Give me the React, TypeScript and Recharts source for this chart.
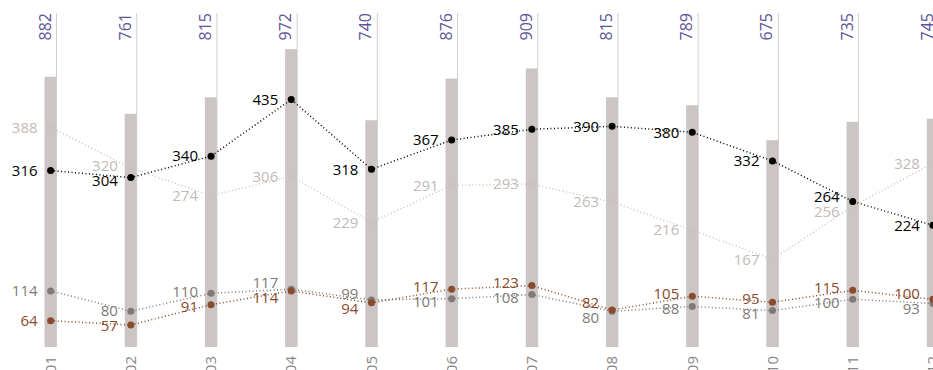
import React from 'react';
import { ComposedChart, Bar, Line, XAxis, YAxis, LabelList } from 'recharts';

const months = ['01', '02', '03', '04', '05', '06', '07', '08', '09', '10', '11', '12'];
const totals = [882, 761, 815, 972, 740, 876, 909, 815, 789, 675, 735, 745];
const seriesA = [316, 304, 340, 435, 318, 367, 385, 390, 380, 332, 264, 224];
const seriesB = [388, 320, 274, 306, 229, 291, 293, 263, 216, 167, 256, 328];
const seriesC = [114, 80, 110, 117, 99, 101, 108, 80, 88, 81, 100, 93];
const seriesD = [64, 57, 91, 114, 94, 117, 123, 82, 105, 95, 115, 100];

const WIDTH = 983;
const HEIGHT = 370;
const MARGIN = { top: 13, right: 10, bottom: 0, left: 10.5 };
const XAXIS_H = 23;
const PLOT_H = HEIGHT - MARGIN.top - MARGIN.bottom - XAXIS_H;
const BAR_DOMAIN: [number, number] = [0, 1090];
const LINE_DOMAIN: [number, number] = [20, 580];
const FONT = '"Open Sans", "Noto Sans", sans-serif';

const lines = [
  { key: 'b', values: seriesB, color: '#cbc3bf', text: '#c3bab6' },
  { key: 'c', values: seriesC, color: '#7f7a78', text: '#7f7a78' },
  { key: 'd', values: seriesD, color: '#8a4a2c', text: '#8a4a2c' },
  { key: 'a', values: seriesA, color: '#000000', text: '#000000' },
];

const data = months.map((m, i) => ({
  month: m,
  total: totals[i],
  a: seriesA[i],
  b: seriesB[i],
  c: seriesC[i],
  d: seriesD[i],
}));

// push labels apart vertically when two series sit close at the same month
const MIN_GAP = 15;
const toPx = (v: number) => ((LINE_DOMAIN[1] - v) / (LINE_DOMAIN[1] - LINE_DOMAIN[0])) * PLOT_H;
const shifts: Record<string, number[]> = {};
lines.forEach((s) => (shifts[s.key] = []));
months.forEach((_, i) => {
  const items = lines
    .map((s) => ({ key: s.key, y: toPx(s.values[i]), pos: toPx(s.values[i]) }))
    .sort((p, q) => p.y - q.y);
  for (let it = 0; it < 20; it++) {
    for (let j = 1; j < items.length; j++) {
      const gap = items[j].pos - items[j - 1].pos;
      if (gap < MIN_GAP) {
        const push = (MIN_GAP - gap) / 2;
        items[j - 1].pos -= push;
        items[j].pos += push;
      }
    }
  }
  items.forEach((p) => (shifts[p.key][i] = p.pos - p.y));
});

const BarWithRule = (props: any) => {
  const { x, y, width, height, fill } = props;
  return (
    <g>
      <line x1={x + width} x2={x + width} y1={MARGIN.top} y2={y + height} stroke="#d4d0cf" strokeWidth={1} />
      <rect x={x} y={y} width={width} height={height} fill={fill} />
    </g>
  );
};

const TotalLabel = (props: any) => {
  const { x, width, value } = props;
  const cx = x + width / 2;
  const cy = MARGIN.top;
  return (
    <text
      x={cx}
      y={cy}
      transform={`rotate(-90, ${cx}, ${cy})`}
      textAnchor="end"
      fill="#5d5497"
      fontSize={16}
      fontFamily={FONT}
    >
      {value}
    </text>
  );
};

const MonthTick = (props: any) => {
  const { x, y, payload } = props;
  return (
    <text
      x={x}
      y={y}
      dy="0.35em"
      transform={`rotate(-90, ${x}, ${y})`}
      textAnchor="end"
      fill="#8a8685"
      fontSize={15}
      fontFamily={FONT}
    >
      {payload.value}
    </text>
  );
};

const makeLineLabel = (key: string, color: string) => (props: any) => {
  const { x, y, value, index } = props;
  return (
    <text
      x={x - 13}
      y={y + (shifts[key][index] || 0)}
      dy="0.35em"
      textAnchor="end"
      fill={color}
      fontSize={15}
      fontFamily={FONT}
    >
      {value}
    </text>
  );
};

export default function App() {
  return (
    <div
      style={{
        position: 'fixed',
        left: 0,
        top: 0,
        width: 933,
        height: 370,
        overflow: 'hidden',
        background: '#fff',
      }}
    >
      <ComposedChart width={WIDTH} height={HEIGHT} data={data} margin={MARGIN}>
        <XAxis
          dataKey="month"
          height={XAXIS_H}
          axisLine={false}
          tickLine={false}
          tickSize={0}
          tickMargin={9}
          interval={0}
          tick={<MonthTick />}
        />
        <YAxis yAxisId="bar" domain={BAR_DOMAIN} allowDataOverflow hide />
        <YAxis yAxisId="line" domain={LINE_DOMAIN} allowDataOverflow hide />
        <Bar
          yAxisId="bar"
          dataKey="total"
          barSize={12}
          fill="#cbc5c3"
          shape={<BarWithRule />}
          isAnimationActive={false}
        >
          <LabelList dataKey="total" content={<TotalLabel />} />
        </Bar>
        {lines.map((s) => (
          <Line
            key={s.key}
            yAxisId="line"
            type="linear"
            dataKey={s.key}
            stroke={s.color}
            strokeWidth={1.5}
            strokeDasharray="1 2.5"
            dot={{ r: 3.5, fill: s.color, stroke: 'none' }}
            activeDot={false}
            isAnimationActive={false}
          >
            <LabelList dataKey={s.key} content={makeLineLabel(s.key, s.text)} />
          </Line>
        ))}
      </ComposedChart>
    </div>
  );
}
